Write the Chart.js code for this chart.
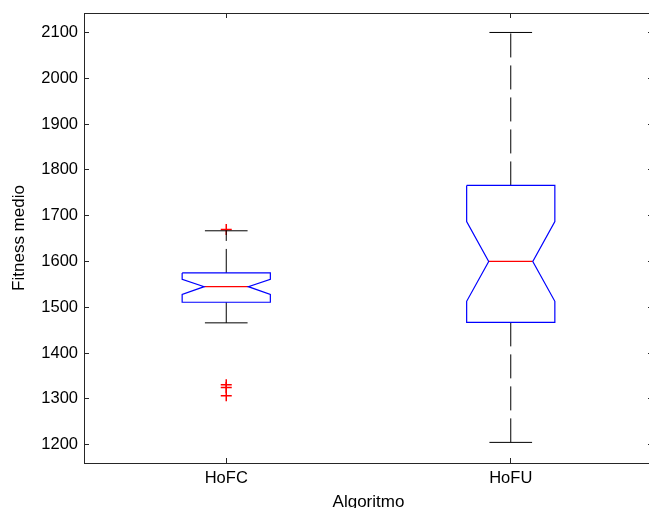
<!DOCTYPE html>
<html>
<head>
<meta charset="utf-8">
<script src="https://cdn.jsdelivr.net/npm/chart.js@4/dist/chart.umd.min.js"></script>
<style>
  html, body { margin: 0; padding: 0; background: #fff; overflow: hidden; }
  canvas { display: block; }
</style>
</head>
<body>
<canvas id="grafico" width="660" height="513"></canvas>
<script>
// datos de las cajas (Fitness medio por algoritmo)
const algoritmos = ['HoFC', 'HoFU'];
const mediana = [1545, 1600];
const cuartil1 = [1511, 1467];
const cuartil3 = [1575, 1766];
const muescaInf = [1528, 1513];
const muescaSup = [1561, 1687];
const bigoteInf = [1466, 1205];
const bigoteSup = [1667, 2100];
const atipicos = [[1670, 1331, 1325, 1307], []];
const ticksY = [1200, 1300, 1400, 1500, 1600, 1700, 1800, 1900, 2000, 2100];

// anchos en unidades del eje x
const medioCaja = 0.155;
const medioMuesca = 0.0775;
const medioTope = 0.075;

const datasets = [];

algoritmos.forEach((nombre, i) => {
  const x = i + 1;
  // contorno de la caja con muesca
  datasets.push({
    data: [
      {x: x - medioCaja, y: cuartil3[i]},
      {x: x + medioCaja, y: cuartil3[i]},
      {x: x + medioCaja, y: muescaSup[i]},
      {x: x + medioMuesca, y: mediana[i]},
      {x: x + medioCaja, y: muescaInf[i]},
      {x: x + medioCaja, y: cuartil1[i]},
      {x: x - medioCaja, y: cuartil1[i]},
      {x: x - medioCaja, y: muescaInf[i]},
      {x: x - medioMuesca, y: mediana[i]},
      {x: x - medioCaja, y: muescaSup[i]},
      {x: x - medioCaja, y: cuartil3[i]}
    ],
    showLine: true, borderColor: '#0000ff', borderWidth: 1.2, pointRadius: 0, tension: 0
  });
  // mediana
  datasets.push({
    data: [{x: x - medioMuesca, y: mediana[i]}, {x: x + medioMuesca, y: mediana[i]}],
    showLine: true, borderColor: '#ff0000', borderWidth: 1.2, pointRadius: 0
  });
  // bigotes discontinuos, desde la caja hacia fuera
  datasets.push({
    data: [{x: x, y: cuartil3[i]}, {x: x, y: bigoteSup[i]}],
    showLine: true, borderColor: '#000', borderWidth: 1, borderDash: [24, 8], pointRadius: 0
  });
  datasets.push({
    data: [{x: x, y: cuartil1[i]}, {x: x, y: bigoteInf[i]}],
    showLine: true, borderColor: '#000', borderWidth: 1, borderDash: [24, 8], pointRadius: 0
  });
  // topes de los bigotes
  datasets.push({
    data: [{x: x - medioTope, y: bigoteSup[i]}, {x: x + medioTope, y: bigoteSup[i]}, {x: x, y: null},
           {x: x - medioTope, y: bigoteInf[i]}, {x: x + medioTope, y: bigoteInf[i]}],
    showLine: true, spanGaps: false, borderColor: '#000', borderWidth: 1, pointRadius: 0
  });
  // valores atipicos
  datasets.push({
    data: atipicos[i].map((v) => ({x: x, y: v})),
    showLine: false, pointStyle: 'cross', pointRadius: 5.5, borderColor: '#ff0000',
    borderWidth: 1.5, backgroundColor: '#ff0000'
  });
});

const fuente = {family: '"Liberation Sans", Arial, sans-serif', size: 16.5};
const ejeColor = '#262626';

const ticksX = (axis) => { axis.ticks = algoritmos.map((n, i) => ({value: i + 1})); };
const ticksYFn = (axis) => { axis.ticks = ticksY.map((v) => ({value: v})); };

// sin margenes extra por las etiquetas, el area del grafico la fija el layout
const ajuste = (s, tam) => {
  if (s.isHorizontal()) s.height = tam; else s.width = tam;
  s.paddingTop = 0; s.paddingBottom = 0; s.paddingLeft = 0; s.paddingRight = 0;
};

const gridBase = {drawOnChartArea: false, drawTicks: true, tickLength: -5, color: ejeColor, lineWidth: 1};
const bordeBase = {display: true, color: ejeColor, width: 1};

new Chart(document.getElementById('grafico'), {
  type: 'scatter',
  data: {datasets: datasets},
  options: {
    responsive: false,
    animation: false,
    devicePixelRatio: 1,
    layout: {padding: {top: 13, right: 5.2, left: 0, bottom: 0}},
    plugins: {legend: {display: false}, tooltip: {enabled: false}},
    scales: {
      x: {
        type: 'linear', position: 'bottom', min: 0.5, max: 2.5,
        afterBuildTicks: ticksX,
        afterFit: (s) => ajuste(s, 50),
        grid: gridBase, border: bordeBase,
        ticks: {font: fuente, color: '#000', padding: 11, maxRotation: 0,
                callback: (v) => algoritmos[v - 1]},
        title: {display: true, text: 'Algoritmo', color: '#000',
                font: {family: fuente.family, size: 17}, padding: {top: 0, bottom: 0}}
      },
      y: {
        type: 'linear', position: 'left', min: 1160, max: 2142.5,
        afterBuildTicks: ticksYFn,
        afterFit: (s) => ajuste(s, 84),
        grid: gridBase, border: bordeBase,
        ticks: {font: fuente, color: '#000', padding: 11, callback: (v) => String(v)},
        title: {display: true, text: 'Fitness medio', color: '#000',
                font: {family: fuente.family, size: 17}, padding: {top: 9, bottom: 0}}
      },
      x2: {
        type: 'linear', position: 'top', min: 0.5, max: 2.5,
        afterBuildTicks: ticksX,
        afterFit: (s) => ajuste(s, 0),
        grid: gridBase, border: bordeBase,
        ticks: {display: false}
      },
      y2: {
        type: 'linear', position: 'right', min: 1160, max: 2142.5,
        afterBuildTicks: ticksYFn,
        afterFit: (s) => ajuste(s, 0),
        grid: gridBase, border: bordeBase,
        ticks: {display: false}
      }
    }
  }
});
</script>
</body>
</html>
